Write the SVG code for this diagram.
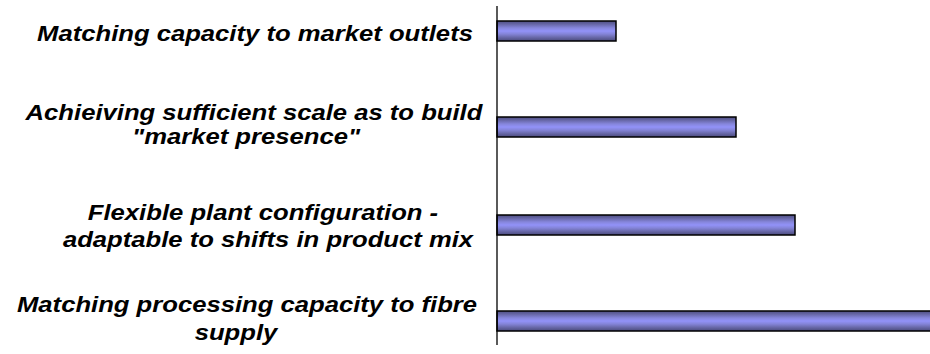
<svg xmlns="http://www.w3.org/2000/svg" width="930" height="354" viewBox="0 0 930 354">
  <style>
    .lbl { font-family: "Liberation Sans", Arial, sans-serif; font-size: 22.5px; font-weight: bold; font-style: italic; fill: #000; text-anchor: middle; }
    .bar { fill: url(#barShade); stroke: #000; stroke-width: 1.5; }
    .axis { stroke: #000; stroke-width: 1.3; fill: none; }
  </style>
  <defs>
    <linearGradient id="barShade" x1="0" y1="0" x2="0" y2="1">
      <stop offset="0" stop-color="#4d4d80"/>
      <stop offset="0.18" stop-color="#6a6aac"/>
      <stop offset="0.35" stop-color="#8686dc"/>
      <stop offset="0.5" stop-color="#9292f8"/>
      <stop offset="0.65" stop-color="#8484d8"/>
      <stop offset="0.82" stop-color="#6868a8"/>
      <stop offset="1" stop-color="#4a4a7c"/>
    </linearGradient>
  </defs>

  <!-- category labels (horizontally widened type) -->
  <g id="labels" transform="scale(1.14,1)">
    <g id="label-outlets">
      <text class="lbl" x="223.7" y="41">Matching capacity to market outlets</text>
    </g>
    <g id="label-scale">
      <text class="lbl" x="222.8" y="120">Achieiving sufficient scale as to build</text>
      <text class="lbl" x="215.8" y="144">"market presence"</text>
    </g>
    <g id="label-flexible">
      <text class="lbl" x="230.7" y="220">Flexible plant configuration -</text>
      <text class="lbl" x="235.1" y="247">adaptable to shifts in product mix</text>
    </g>
    <g id="label-fibre">
      <text class="lbl" x="216.7" y="312">Matching processing capacity to fibre</text>
      <text class="lbl" x="207.0" y="340">supply</text>
    </g>
  </g>

  <!-- bars -->
  <g id="bars">
    <rect id="bar-outlets" class="bar" x="497" y="21" width="119" height="20"/>
    <rect id="bar-scale" class="bar" x="497" y="117" width="239" height="20"/>
    <rect id="bar-flexible" class="bar" x="497" y="215" width="298" height="20"/>
    <rect id="bar-fibre" class="bar" x="497" y="311" width="440" height="20"/>
  </g>

  <!-- category axis -->
  <g id="connectors">
    <line class="axis" x1="497" y1="6" x2="497" y2="345"/>
  </g>
</svg>
